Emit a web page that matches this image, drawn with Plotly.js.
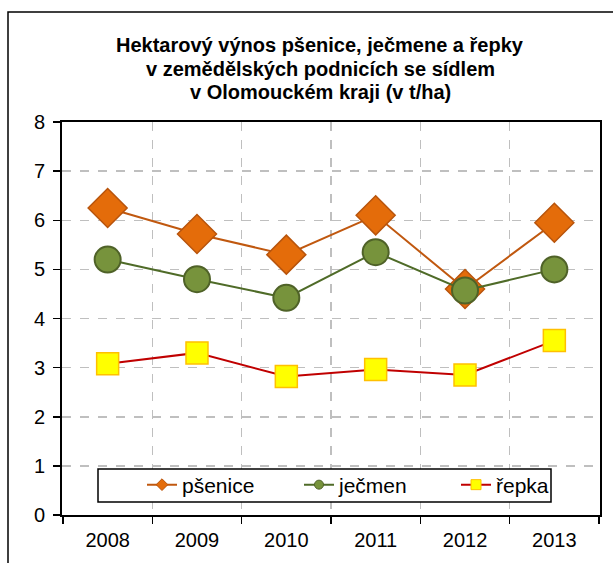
<!DOCTYPE html>
<html>
<head>
<meta charset="utf-8">
<script src="https://cdn.plot.ly/plotly-3.0.1.min.js"></script>
<style>html,body{margin:0;padding:0;background:#fff;}#chart{width:613px;height:563px;}</style>
</head>
<body>
<div id="chart"></div>
<script>
const years = ['2008', '2009', '2010', '2011', '2012', '2013'];
const psenice = [6.25, 5.72, 5.30, 6.10, 4.60, 5.95];
const jecmen = [5.20, 4.80, 4.42, 5.35, 4.57, 5.00];
const repka = [3.08, 3.30, 2.82, 2.96, 2.85, 3.55];
const seriesNames = ['pšenice', 'ječmen', 'řepka'];
const yTicks = [0, 1, 2, 3, 4, 5, 6, 7, 8];
const titleLines = ['Hektarový výnos pšenice, ječmene a řepky', 'v zemědělských podnicích se sídlem', 'v Olomouckém kraji (v t/ha)'];

const styles = [
  {line: {color: '#C0580F', width: 2}, symbol: 'diamond', size: 30, fill: '#E46C0A', edge: {color: '#B8540C', width: 1.5}, lsize: 9},
  {line: {color: '#4F6B28', width: 2}, symbol: 'circle', size: 26, fill: '#77933C', edge: {color: '#4F6228', width: 2}, lsize: 9},
  {line: {color: '#C00000', width: 2}, symbol: 'square', size: 22, fill: '#FFFF00', edge: {color: '#FFC000', width: 1.5}, lsize: 10}
];
const values = [psenice, jecmen, repka];

const traces = [];
values.forEach((vals, i) => {
  const s = styles[i];
  traces.push({x: years, y: vals, name: seriesNames[i], type: 'scatter', mode: 'lines+markers',
    showlegend: false, line: s.line,
    marker: {symbol: s.symbol, size: s.size, color: s.fill, line: s.edge}});
});
values.forEach((vals, i) => {
  const s = styles[i];
  traces.push({x: [null], y: [null], name: seriesNames[i], type: 'scatter', mode: 'lines+markers',
    showlegend: true, line: s.line,
    marker: {symbol: s.symbol, size: s.lsize, color: s.fill, line: {color: s.edge.color, width: 1}}});
});

const L = 62, R = 600, T = 122, B = 515, W = 613, H = 563;
const pw = R - L, ph = B - T;
const fx = (p) => (p - L) / pw;
const fy = (p) => (B - p) / ph;

const annotations = titleLines.map((t, i) => ({
  text: '<b>' + t + '</b>', xref: 'paper', yref: 'paper', x: fx(320), y: fy(45 + i * 23.5),
  xanchor: 'center', yanchor: 'middle', showarrow: false,
  font: {family: 'Liberation Sans, Arial, sans-serif', size: 20, color: '#000'}
}));

const layout = {
  width: W, height: H,
  margin: {l: L, r: W - R, t: T, b: H - B, pad: 0, autoexpand: false},
  paper_bgcolor: '#fff', plot_bgcolor: '#fff',
  font: {family: 'Liberation Sans, Arial, sans-serif', color: '#000', size: 20},
  showlegend: true,
  legend: {orientation: 'h', xref: 'container', x: 1, xanchor: 'right', y: fy(485), yanchor: 'middle',
           bgcolor: 'rgba(0,0,0,0)', borderwidth: 0,
           font: {size: 21, family: 'Liberation Sans, Arial, sans-serif'},
           entrywidth: 112, entrywidthmode: 'pixels', traceorder: 'normal'},
  xaxis: {type: 'category', categoryarray: years, tickson: 'boundaries',
          showgrid: true, gridcolor: '#BFBFBF', griddash: 'dash', gridwidth: 1.5,
          showline: true, linecolor: '#000', linewidth: 2, mirror: true,
          ticks: 'outside', ticklen: 7, tickcolor: '#000', tickwidth: 1.5,
          ticklabelstandoff: 6, automargin: false,
          tickfont: {size: 20}, zeroline: false, fixedrange: true},
  yaxis: {range: [0, 8], tickvals: yTicks, ticktext: yTicks.map(String),
          showgrid: true, gridcolor: '#BFBFBF', griddash: 'dash', gridwidth: 1.5,
          showline: true, linecolor: '#000', linewidth: 2, mirror: true,
          ticks: 'outside', ticklen: 7, tickcolor: '#000', tickwidth: 1.5,
          ticklabelstandoff: 4, automargin: false,
          tickfont: {size: 20}, zeroline: false, fixedrange: true},
  annotations: annotations,
  shapes: [
    {type: 'rect', xref: 'paper', yref: 'paper',
     x0: fx(8), x1: fx(640), y0: fy(600), y1: fy(12),
     line: {color: '#000', width: 1.5}, fillcolor: 'rgba(0,0,0,0)', layer: 'below'},
    {type: 'rect', xref: 'paper', yref: 'paper',
     x0: fx(98), x1: fx(551), y0: fy(502), y1: fy(469),
     line: {color: '#000', width: 1.5}, fillcolor: '#fff', layer: 'above'}
  ]
};

Plotly.newPlot('chart', traces, layout, {displayModeBar: false, staticPlot: true});
</script>
</body>
</html>
